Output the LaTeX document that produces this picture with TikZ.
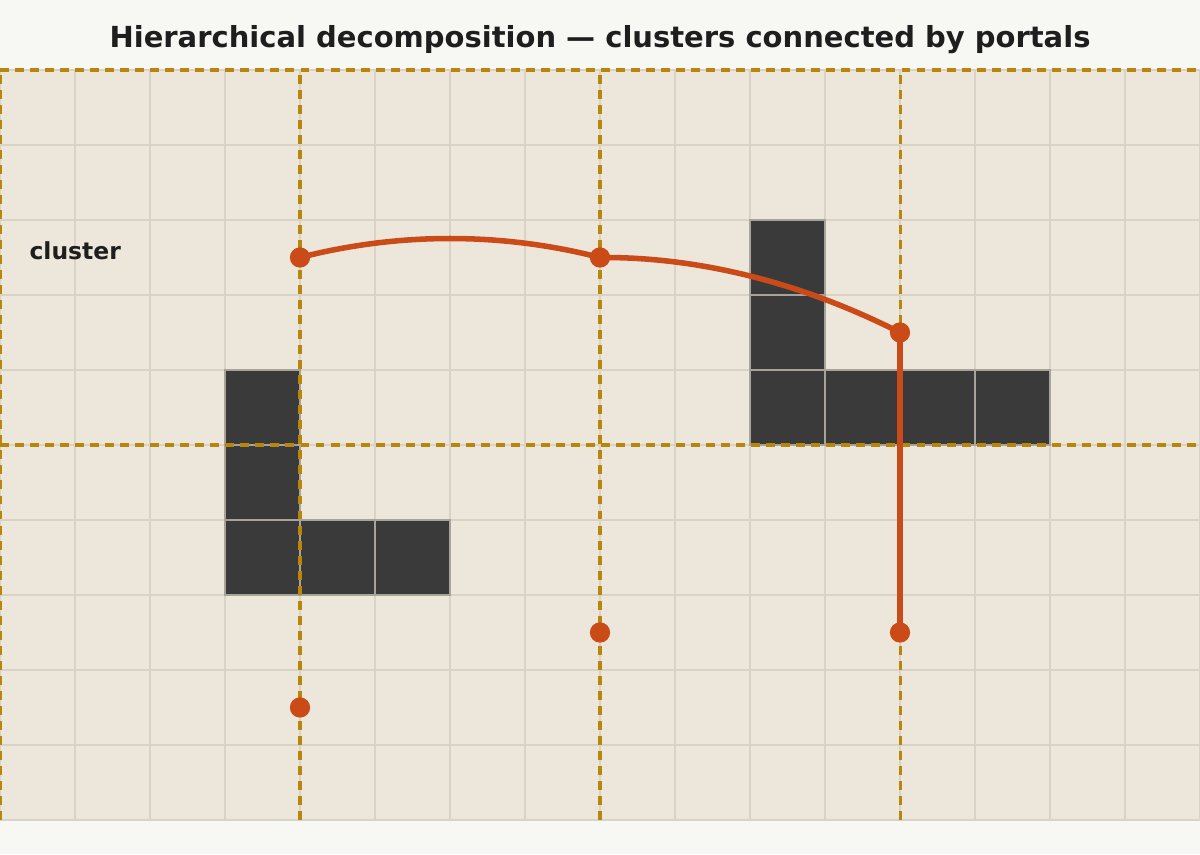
\documentclass[tikz,border=0pt]{standalone}
\usepackage{fontspec}
\setmainfont{DejaVu Sans}
\usepackage{tikz}
\definecolor{mypaper}{RGB}{247,247,243}
\definecolor{mycell}{RGB}{237,230,219}
\definecolor{mygridline}{RGB}{217,210,198}
\definecolor{mygold}{RGB}{184,134,11}
\definecolor{mywall}{RGB}{58,58,58}
\definecolor{mywalledge}{RGB}{168,163,152}
\definecolor{myportal}{RGB}{202,74,24}
\definecolor{myink}{RGB}{30,30,30}
\newcommand{\gridwidth}{16}
\newcommand{\gridheight}{10}
\newcommand{\portalsize}{0.27cm}
\tikzset{
    gridline/.style={draw=mygridline, line width=0.75pt},
    wall/.style={fill=mywall, draw=mywalledge, line width=0.6pt},
    boundary/.style={draw=mygold, line width=1.15pt, dash pattern=on 3.4pt off 2.3pt},
    portal/.style={circle, fill=myportal, inner sep=0pt, minimum size=\portalsize},
    link/.style={draw=myportal, line width=2.1pt, shorten <=-2.5pt, shorten >=-2.5pt},
    heading/.style={font=\bfseries\fontsize{11}{13}\selectfont, text=myink},
    tag/.style={anchor=west, inner sep=0pt, font=\bfseries\fontsize{8.9}{10}\selectfont, text=myink}
}
\begin{document}
\begin{tikzpicture}
    \useasboundingbox[fill=mypaper] (0,-0.4533) rectangle (16,10.9333);
    \node[heading] (title) at (8,10.41) {Hierarchical decomposition — clusters connected by portals};
    % cells
    \fill[mycell] (0,0) rectangle (\gridwidth,\gridheight);
    \draw[gridline] (0,0) grid (\gridwidth,\gridheight);
    % obstacles
    \foreach \x/\y in {3/5, 3/4, 3/3, 4/3, 5/3, 10/7, 10/6, 10/5, 11/5, 12/5, 13/5}
        \draw[wall] (\x,\y) rectangle ++(1,1);
    % cluster borders
    \foreach \x in {0, 4, 8, 12}
        \draw[boundary] (\x,0) -- (\x,\gridheight);
    \draw[boundary] (0,\gridheight) -- (\gridwidth,\gridheight);
    \draw[boundary] (0,5) -- (\gridwidth,5);
    \node[tag] (cluster-label) at (0.387,7.587) {cluster};
    % portals
    \node[portal] (portal-a) at (4,7.5) {};
    \node[portal] (portal-b) at (8,7.5) {};
    \node[portal] (portal-c) at (12,6.5) {};
    \node[portal] (portal-d) at (8,2.5) {};
    \node[portal] (portal-e) at (12,2.5) {};
    \node[portal] (portal-f) at (4,1.5) {};
    \draw[link] (portal-a) .. controls +(1.333,0.333) and +(-1.333,0.333) .. (portal-b);
    \draw[link] (portal-b) .. controls +(1.333,0) and +(-1.333,0.667) .. (portal-c);
    \draw[link] (portal-c) -- (portal-e);
\end{tikzpicture}
\end{document}
